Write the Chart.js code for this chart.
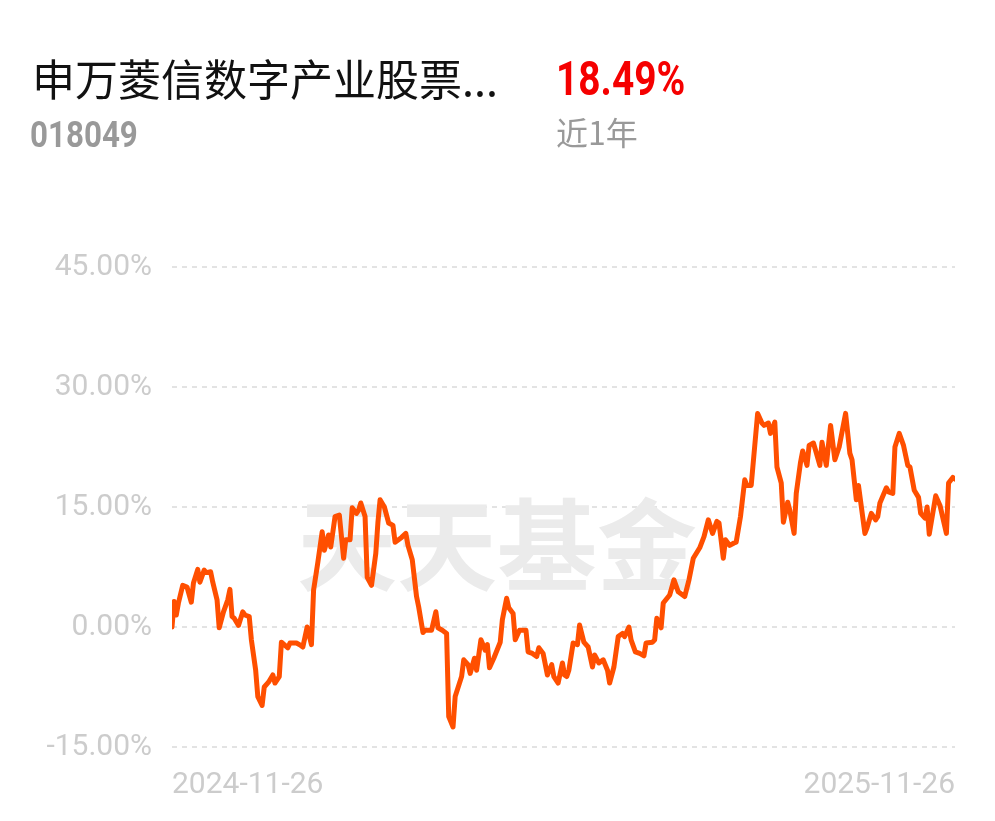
<!DOCTYPE html>
<html>
<head>
<meta charset="utf-8">
<script src="https://cdn.jsdelivr.net/npm/chart.js@4.4.1/dist/chart.umd.min.js"></script>
<style>
  html, body { margin: 0; padding: 0; background: #fff; }
  #wrap { position: relative; width: 995px; height: 821px; overflow: hidden; }
  #chart { position: absolute; left: 0; top: 0; }
  .txt { position: absolute; white-space: nowrap; line-height: 1; }
  #name { left: 32px; top: 46px; font: 43px "Noto Sans CJK SC", sans-serif; color: #111; }
  #code { left: 30px; top: 114px; font: bold 36px Roboto, sans-serif; color: #999; transform: scaleX(0.87); transform-origin: left top; }
  #ret { left: 556px; top: 50px; font: bold 48px Roboto, sans-serif; color: #f50000; transform: scaleX(0.81); transform-origin: left top; }
  #period { left: 556px; top: 108px; font: 32px "Noto Sans CJK SC", sans-serif; color: #999; }
</style>
</head>
<body>
<div id="wrap">
  <canvas id="chart" width="995" height="821"></canvas>
  <div class="txt" id="name">申万菱信数字产业股票...</div>
  <div class="txt" id="code">018049</div>
  <div class="txt" id="ret">18.49%</div>
  <div class="txt" id="period">近1年</div>
</div>
<script>
// calendar days since 2024-11-26
const days = [
  0, 1, 2, 3, 5, 7, 9, 10, 12, 13, 15, 16, 18, 19, 21, 22, 24, 26, 27, 28,
  29, 31, 33, 34, 36, 37, 39, 40, 42, 43, 45, 47, 48, 50, 51, 54, 55, 58, 60, 61,
  63, 65, 66, 68, 70, 71, 73, 74, 76, 78, 80, 81, 83, 84, 86, 87, 88, 90, 91, 93,
  95, 96, 97, 99, 101, 103, 104, 107, 109, 110, 112, 114, 115, 117, 118, 121, 123, 124, 126, 128,
  129, 131, 132, 135, 136, 138, 139, 141, 142, 144, 146, 147, 148, 150, 153, 154, 156, 157, 159, 160,
  162, 165, 166, 168, 170, 171, 173, 175, 177, 178, 180, 182, 183, 184, 185, 187, 189, 190, 192, 194,
  196, 197, 199, 201, 203, 204, 206, 208, 210, 211, 213, 214, 216, 218, 220, 221, 224, 225, 226, 228,
  229, 232, 234, 236, 239, 241, 243, 246, 248, 250, 252, 254, 255, 257, 258, 260, 262, 263, 265, 267,
  268, 270, 273, 275, 276, 278, 279, 281, 282, 284, 285, 287, 288, 290, 291, 293, 294, 296, 297, 299,
  300, 302, 303, 305, 307, 309, 311, 314, 316, 317, 319, 320, 323, 324, 326, 328, 329, 330, 333, 334,
  336, 337, 339, 341, 343, 344, 346, 348, 349, 351, 352, 353, 356, 358, 361, 362, 364, 365
];

// cumulative return, %
const returns = [
  0, 3.2, 1.5, 3.0, 5.2, 5.0, 3.1, 5.5, 7.2, 5.6, 7.1, 6.8, 6.9, 5.6, 3.4, -0.1, 1.9, 3.4, 4.7, 1.3,
  1.1, 0.2, 1.9, 1.5, 1.3, -1.6, -5.4, -8.7, -9.8, -7.5, -6.9, -6.0, -7.0, -6.2, -1.9, -2.6, -2.0, -2.0, -2.3, -2.5,
  0, -2.2, 4.6, 8.1, 11.9, 9.6, 11.5, 10.0, 13.8, 14.0, 8.6, 10.9, 10.9, 14.9, 14.2, 14.6, 15.5, 13.8, 6.2, 5.2,
  9.2, 13.1, 15.9, 15.0, 13.0, 12.7, 10.6, 11.2, 11.7, 10.2, 8.4, 3.8, 2.5, -0.7, -0.4, -0.4, 1.9, -0.1, -0.4, -0.8,
  -11.2, -12.5, -8.7, -6.2, -4.1, -4.7, -5.8, -3.9, -5.4, -1.6, -2.9, -2.2, -5.1, -3.9, -1.9, 0.9, 3.6, 2.4, 1.7, -1.6,
  -0.4, -0.4, -3.1, -3.3, -3.7, -2.6, -3.3, -6.0, -4.7, -6.2, -7.0, -4.5, -6.0, -6.2, -5.4, -2.0, -2.2, 0.25, -1.9, -2.5,
  -5.0, -3.5, -4.5, -4.1, -5.4, -7.0, -5.0, -1.2, -0.8, -1.2, 0, -1.6, -3.1, -3.3, -3.6, -2.0, -1.9, -1.6, 1.1, -0.1,
  3.0, 4.0, 5.9, 4.4, 3.8, 5.9, 8.6, 9.9, 11.3, 13.4, 11.7, 13.2, 13.0, 8.6, 10.9, 10.2, 10.5, 10.6, 13.8, 18.4,
  17.7, 17.7, 26.7, 25.5, 25.2, 25.5, 24.2, 25.6, 20.0, 18.0, 13.1, 15.6, 14.6, 11.7, 16.7, 20.6, 22.0, 20.2, 22.7, 23.0,
  22.1, 20.2, 23.1, 20.2, 25.2, 20.9, 22.5, 26.7, 21.7, 20.9, 15.9, 17.7, 11.7, 12.4, 14.2, 13.4, 13.8, 15.5, 17.4, 16.9,
  16.7, 22.5, 24.2, 22.7, 20.2, 20.0, 17.1, 16.2, 14.2, 13.6, 15.0, 11.6, 16.4, 15.2, 11.7, 18.0, 18.7, 18.49
];

const xTickValues = [0, 365];
const xTickLabels = ['2024-11-26', '2025-11-26'];
const yMin = -15, yMax = 45, yStep = 15;
const watermarkText = '天天基金';

const watermark = {
  id: 'watermark',
  beforeDatasetsDraw(chart) {
    const { ctx, chartArea } = chart;
    ctx.save();
    ctx.font = 'bold 100px "Noto Sans CJK SC"';
    ctx.fillStyle = '#ebebeb';
    ctx.textAlign = 'center';
    ctx.textBaseline = 'middle';
    ctx.fillText(watermarkText,
      chartArea.left + chartArea.width * 0.415,
      chartArea.top + chartArea.height * 0.58);
    ctx.restore();
  }
};

const ctx = document.getElementById('chart').getContext('2d');
new Chart(ctx, {
  type: 'line',
  data: {
    datasets: [{
      data: days.map((d, i) => ({ x: d, y: returns[i] })),
      borderColor: '#ff4f00',
      borderWidth: 5,
      pointRadius: 0,
      tension: 0,
      borderJoinStyle: 'round',
      borderCapStyle: 'round',
      fill: false,
    }],
  },
  options: {
    responsive: false,
    animation: false,
    devicePixelRatio: 1,
    layout: { padding: { top: 267, right: 40, left: 0, bottom: 0 } },
    plugins: { legend: { display: false }, tooltip: { enabled: false } },
    scales: {
      x: {
        type: 'linear',
        min: 0,
        max: 365,
        grid: { display: false },
        border: { display: false },
        afterBuildTicks: (scale) => {
          scale.ticks = xTickValues.map((v) => ({ value: v }));
        },
        afterFit: (scale) => { scale.height = 74; },
        ticks: {
          autoSkip: false,
          maxRotation: 0,
          align: 'inner',
          padding: 12,
          color: '#cccccc',
          font: { family: 'Roboto', size: 30 },
          callback: (value) => xTickLabels[xTickValues.indexOf(value)],
        },
      },
      y: {
        min: yMin,
        max: yMax,
        afterFit: (scale) => { scale.width = 172; },
        grid: { color: '#e3e3e3', lineWidth: 2, drawTicks: false },
        border: { display: false, dash: [5, 5] },
        ticks: {
          stepSize: yStep,
          padding: 20,
          color: '#cccccc',
          font: { family: 'Roboto', size: 30 },
          callback: (value) => value.toFixed(2) + '%',
        },
      },
    },
  },
  plugins: [watermark],
});
</script>
</body>
</html>
